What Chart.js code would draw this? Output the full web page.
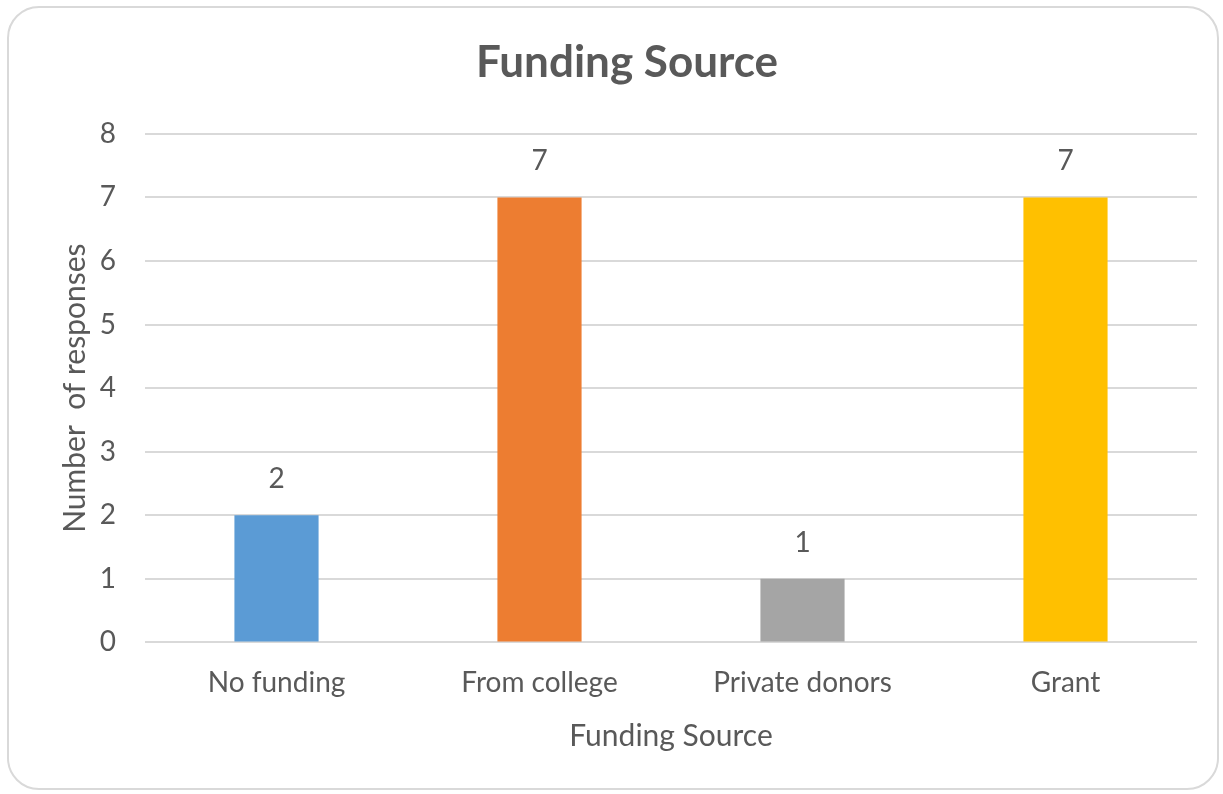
<!DOCTYPE html>
<html>
<head>
<meta charset="utf-8">
<script src="https://cdn.jsdelivr.net/npm/chart.js@4.4.1/dist/chart.umd.min.js"></script>
<style>
  html, body { margin: 0; padding: 0; background: #fff; }
  #frame {
    position: absolute; left: 7px; top: 6px; width: 1212px; height: 784px;
    border: 2px solid #d9d9d9; border-radius: 32px; box-sizing: border-box;
  }
  #wrap { position: absolute; left: 0; top: 0; width: 1223px; height: 794px; }
</style>
</head>
<body>
<div id="frame"></div>
<div id="wrap"><canvas id="chart"></canvas></div>
<script>
const categories = ["No funding", "From college", "Private donors", "Grant"];
const responses = [2, 7, 1, 7];
const barColors = ["#5b9bd5", "#ed7d31", "#a5a5a5", "#ffc000"];
const yTicks = [0, 1, 2, 3, 4, 5, 6, 7, 8];

const FONT = "Lato, 'Open Sans', sans-serif";
const TEXT = "#595959";

// value labels above each bar
const barLabels = {
  id: "barLabels",
  afterDatasetsDraw(chart) {
    const ctx = chart.ctx;
    const meta = chart.getDatasetMeta(0);
    ctx.save();
    ctx.font = "28px " + FONT;
    ctx.fillStyle = TEXT;
    ctx.textAlign = "center";
    ctx.textBaseline = "middle";
    meta.data.forEach((bar, i) => {
      ctx.fillText(String(responses[i]), bar.x, bar.y - 36);
    });
    ctx.restore();
  },
};

new Chart(document.getElementById("chart"), {
  type: "bar",
  data: {
    labels: categories,
    datasets: [
      {
        data: responses,
        backgroundColor: barColors,
        borderWidth: 0,
        categoryPercentage: 1,
        barPercentage: 0.32,
      },
    ],
  },
  options: {
    responsive: true,
    maintainAspectRatio: false,
    animation: false,
    layout: { padding: { left: 57, right: 26, top: 20, bottom: 36 } },
    plugins: {
      legend: { display: false },
      tooltip: { enabled: false },
      title: {
        display: true,
        text: "Funding Source",
        color: TEXT,
        font: { family: FONT, size: 44, weight: "bold" },
        padding: { top: 16, bottom: 45 },
      },
    },
    scales: {
      x: {
        grid: { display: false },
        border: { display: false },
        ticks: { color: TEXT, font: { family: FONT, size: 28 }, padding: 16 },
        title: {
          display: true,
          text: "Funding Source",
          color: TEXT,
          font: { family: FONT, size: 30 },
          padding: { top: 2 },
        },
      },
      y: {
        min: 0,
        max: 8,
        afterBuildTicks: (axis) => {
          axis.ticks = yTicks.map((v) => ({ value: v }));
        },
        afterFit: (axis) => {
          axis.width = 88;
        },
        grid: { color: "#d9d9d9", lineWidth: 2, drawTicks: false },
        border: { display: false },
        ticks: { color: TEXT, font: { family: FONT, size: 28 }, padding: 29 },
        title: {
          display: true,
          text: "Number  of responses",
          color: TEXT,
          font: { family: FONT, size: 30 },
          padding: 0,
        },
      },
    },
  },
  plugins: [barLabels],
});
</script>
</body>
</html>
